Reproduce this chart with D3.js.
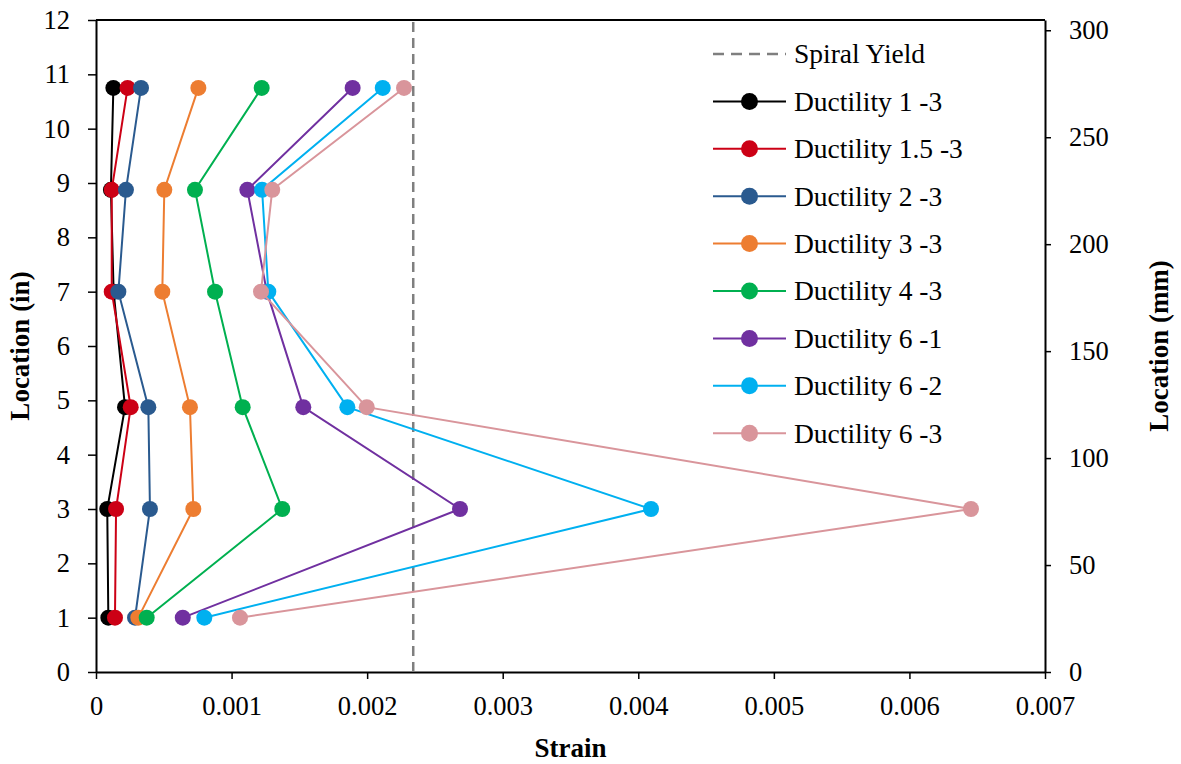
<!DOCTYPE html>
<html>
<head>
<meta charset="utf-8">
<script src="https://cdn.jsdelivr.net/npm/d3@7"></script>
<style>
  html, body { margin: 0; padding: 0; background: #fff; }
  svg { display: block; }
  text { font-family: "Liberation Serif", "Times New Roman", serif; fill: #000; }
</style>
</head>
<body>
<svg id="chart" width="1181" height="764"></svg>
<script>
// ---------- data ----------
const locations = [10.75, 8.875, 7, 4.875, 3, 1];   // in
const seriesNames = ["Ductility 1 -3", "Ductility 1.5 -3", "Ductility 2 -3", "Ductility 3 -3",
                     "Ductility 4 -3", "Ductility 6 -1", "Ductility 6 -2", "Ductility 6 -3"];
const duct1_3   = [0.000128, 0.000110, 0.000130, 0.000214, 0.000083, 0.000091];
const duct1_5_3 = [0.000233, 0.000116, 0.000116, 0.000256, 0.000148, 0.000140];
const duct2_3   = [0.000332, 0.000221, 0.000165, 0.000386, 0.000398, 0.000288];
const duct3_3   = [0.000755, 0.000504, 0.000489, 0.000693, 0.000718, 0.000312];
const duct4_3   = [0.001222, 0.000730, 0.000878, 0.001082, 0.001374, 0.000374];
const duct6_1   = [0.001893, 0.001116, 0.001260, 0.001529, 0.002685, 0.000640];
const duct6_2   = [0.002115, 0.001225, 0.001271, 0.001854, 0.004094, 0.000799];
const duct6_3   = [0.002272, 0.001300, 0.001217, 0.001997, 0.006454, 0.001062];
const spiralYield = 0.00234;
const spiralYieldLabel = "Spiral Yield";
const xTicks = [0, 0.001, 0.002, 0.003, 0.004, 0.005, 0.006, 0.007];
const yTicks = [0, 1, 2, 3, 4, 5, 6, 7, 8, 9, 10, 11, 12];
const yMMTicks = [0, 50, 100, 150, 200, 250, 300];
const xTitle = "Strain";
const yTitle = "Location (in)";
const y2Title = "Location (mm)";

const seriesValues = [duct1_3, duct1_5_3, duct2_3, duct3_3, duct4_3, duct6_1, duct6_2, duct6_3];
const colors = ["#000000", "#cc0015", "#2a5a8f", "#ed7d31", "#00b050", "#7030a0", "#00b0f0", "#d9959b"];

// ---------- layout ----------
const svg = d3.select("#chart");
const L = 96, R = 1045, T = 20, B = 672;

const x = d3.scaleLinear().domain([0, 0.007]).range([L, R]);
const y = d3.scaleLinear().domain([0, 12]).range([B, T]);
const yMM = d3.scaleLinear().domain([0, 12 * 25.4]).range([B, T]);

// top border
svg.append("line").attr("x1", L).attr("x2", R).attr("y1", T).attr("y2", T)
  .attr("stroke", "#000").attr("stroke-width", 2);

// axes
const fmtX = d => d === 0 ? "0" : d3.format(".3f")(d);
const gx = svg.append("g").attr("transform", `translate(0,${B})`)
  .call(d3.axisBottom(x).tickValues(xTicks).tickFormat(fmtX).tickSize(7).tickSizeOuter(0).tickPadding(17));
const gy = svg.append("g").attr("transform", `translate(${L},0)`)
  .call(d3.axisLeft(y).tickValues(yTicks).tickFormat(d3.format("d")).tickSize(8).tickSizeOuter(0).tickPadding(18));
const gy2 = svg.append("g").attr("transform", `translate(${R},0)`)
  .call(d3.axisRight(yMM).tickValues(yMMTicks).tickFormat(d3.format("d")).tickSize(6).tickSizeOuter(0).tickPadding(18));

[gx, gy, gy2].forEach(g => {
  g.selectAll("path.domain").attr("stroke", "#000").attr("stroke-width", 2);
  g.selectAll(".tick line").attr("stroke", "#000").attr("stroke-width", 1.5);
  g.selectAll(".tick text").attr("font-family", "Liberation Serif, serif").attr("font-size", 26.5).attr("fill", "#000");
});

// titles
svg.append("text").attr("x", (L + R) / 2).attr("y", 757).attr("text-anchor", "middle")
  .attr("font-size", 27).attr("font-weight", "bold").text(xTitle);
svg.append("text").attr("transform", `translate(29,${(T + B) / 2}) rotate(-90)`).attr("text-anchor", "middle")
  .attr("font-size", 27).attr("font-weight", "bold").text(yTitle);
svg.append("text").attr("transform", `translate(1168,${(T + B) / 2}) rotate(-90)`).attr("text-anchor", "middle")
  .attr("font-size", 27).attr("font-weight", "bold").text(y2Title);

// spiral yield line
svg.append("line").attr("x1", x(spiralYield)).attr("x2", x(spiralYield)).attr("y1", y(0)).attr("y2", y(12))
  .attr("stroke", "#7f7f7f").attr("stroke-width", 2.5).attr("stroke-dasharray", "10,6");

// series
const line = d3.line().x(d => x(d[0])).y(d => y(d[1]));
seriesValues.forEach((vals, i) => {
  const pts = vals.map((v, j) => [v, locations[j]]);
  const g = svg.append("g");
  g.append("path").attr("d", line(pts)).attr("fill", "none")
    .attr("stroke", colors[i]).attr("stroke-width", 2);
  g.selectAll("circle").data(pts).join("circle")
    .attr("cx", d => x(d[0])).attr("cy", d => y(d[1])).attr("r", 8)
    .attr("fill", colors[i]);
});

// legend
const lg = svg.append("g");
const legX1 = 713, legX2 = 786, legTextX = 794, legY0 = 54, legStep = 47.4;
lg.append("line").attr("x1", legX1).attr("x2", legX2).attr("y1", legY0).attr("y2", legY0)
  .attr("stroke", "#7f7f7f").attr("stroke-width", 2.5).attr("stroke-dasharray", "11,7");
lg.append("text").attr("x", legTextX).attr("y", legY0).attr("dy", "0.34em")
  .attr("font-size", 27.5).text(spiralYieldLabel);
seriesNames.forEach((name, i) => {
  const yy = legY0 + legStep * (i + 1);
  lg.append("line").attr("x1", legX1).attr("x2", legX2).attr("y1", yy).attr("y2", yy)
    .attr("stroke", colors[i]).attr("stroke-width", 2);
  lg.append("circle").attr("cx", (legX1 + legX2) / 2).attr("cy", yy).attr("r", 8.5).attr("fill", colors[i]);
  lg.append("text").attr("x", legTextX).attr("y", yy).attr("dy", "0.34em")
    .attr("font-size", 27.5).text(name);
});
</script>
</body>
</html>
